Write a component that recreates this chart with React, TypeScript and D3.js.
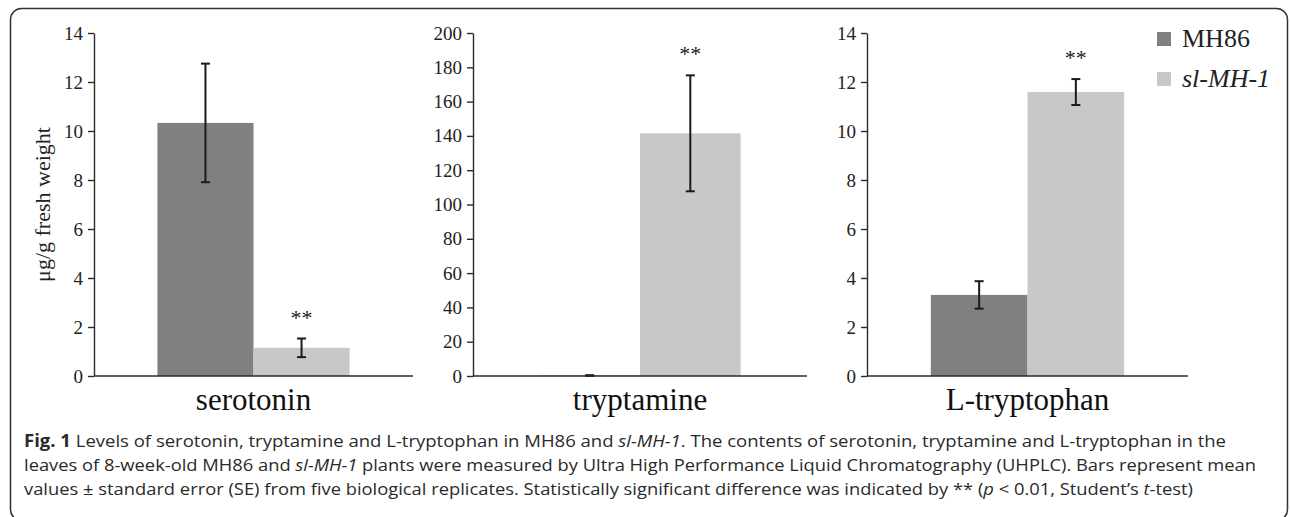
import React, { useEffect, useRef } from "react";
import * as d3 from "d3";

// values (µg/g fresh weight)
const categories = ["serotonin", "tryptamine", "L-tryptophan"];
const seriesNames = ["MH86", "sl-MH-1"];
const mh86Mean = [10.33, 0.2, 3.31];
const mh86Se = [2.42, 0.3, 0.56];
const slMean = [1.15, 141.5, 11.59];
const slSe = [0.38, 33.8, 0.53];
const yMax = [14, 200, 14];
const yStep = [2, 20, 2];
const starMark = ["**", "**", "**"];

const colorMH86 = "#808080";
const colorSl = "#c8c8c8";
const inkColor = "#2b2b2b";
const serif = "Liberation Serif";
const sans = "Open Sans";

// plot areas for the three panels
const panels = [
    { x0: 94, x1: 413 },
    { x0: 473, x1: 807 },
    { x0: 867, x1: 1188 },
];
const plotTop = 33;
const plotBottom = 376;

const captionLines = [
    {
        y: 447,
        len: 1202,
        parts: [
            { t: "Fig. 1", w: "bold" },
            { t: " Levels of serotonin, tryptamine and L-tryptophan in MH86 and " },
            { t: "sl-MH-1", i: true },
            { t: ". The contents of serotonin, tryptamine and L-tryptophan in the" },
        ],
    },
    {
        y: 471,
        len: 1232,
        parts: [
            { t: "leaves of 8-week-old MH86 and " },
            { t: "sl-MH-1", i: true },
            { t: " plants were measured by Ultra High Performance Liquid Chromatography (UHPLC). Bars represent mean" },
        ],
    },
    {
        y: 495,
        len: 1169,
        parts: [
            { t: "values \u00b1 standard error (SE) from five biological replicates. Statistically significant difference was indicated by ** (" },
            { t: "p", i: true },
            { t: " < 0.01, Student\u2019s " },
            { t: "t", i: true },
            { t: "-test)" },
        ],
    },
];

const width = 1290;
const height = 517;

export default function App() {
    const svgRef = useRef<SVGSVGElement>(null);

    useEffect(() => {
        document.body.style.margin = "0";
        const svg = d3.select(svgRef.current);
        svg.selectAll("*").remove();

        svg.append("rect")
            .attr("width", width)
            .attr("height", height)
            .attr("fill", "white");

        // rounded frame around the figure
        svg.append("rect")
            .attr("x", 10.5)
            .attr("y", 8.5)
            .attr("width", 1277)
            .attr("height", 512)
            .attr("rx", 11)
            .attr("fill", "none")
            .attr("stroke", "#333")
            .attr("stroke-width", 1.5);

        categories.forEach((cat, i) => {
            const p = panels[i];
            const g = svg.append("g").attr("font-family", serif);

            const y = d3.scaleLinear().domain([0, yMax[i]]).range([plotBottom, plotTop]);
            const x = d3.scaleBand().domain([cat]).range([p.x0, p.x1]).paddingInner(0).paddingOuter(0.33);
            const xs = d3.scaleBand().domain(seriesNames).range([0, x.bandwidth()]);

            const values = [
                { name: "MH86", mean: mh86Mean[i], se: mh86Se[i], color: colorMH86 },
                { name: "sl-MH-1", mean: slMean[i], se: slSe[i], color: colorSl },
            ];

            g.selectAll("rect.bar")
                .data(values)
                .enter()
                .append("rect")
                .attr("class", "bar")
                .attr("x", (d) => (x(cat) as number) + (xs(d.name) as number))
                .attr("width", xs.bandwidth())
                .attr("y", (d) => y(d.mean))
                .attr("height", (d) => plotBottom - y(d.mean))
                .attr("fill", (d) => d.color);

            // error bars
            values.forEach((d) => {
                const cx = (x(cat) as number) + (xs(d.name) as number) + xs.bandwidth() / 2;
                const lo = Math.max(0, d.mean - d.se);
                const hi = d.mean + d.se;
                const eb = g.append("g").attr("stroke", "#1a1a1a").attr("stroke-width", 2);
                eb.append("line").attr("x1", cx).attr("x2", cx).attr("y1", y(lo)).attr("y2", y(hi));
                eb.append("line").attr("x1", cx - 4.5).attr("x2", cx + 4.5).attr("y1", y(hi)).attr("y2", y(hi));
                eb.append("line").attr("x1", cx - 4.5).attr("x2", cx + 4.5).attr("y1", y(lo)).attr("y2", y(lo));
            });

            // significance mark above sl-MH-1
            const sl = values[1];
            g.append("text")
                .attr("x", (x(cat) as number) + (xs("sl-MH-1") as number) + xs.bandwidth() / 2)
                .attr("y", y(sl.mean + sl.se) - 14)
                .attr("text-anchor", "middle")
                .attr("font-family", serif)
                .attr("font-size", 22)
                .attr("fill", "#222")
                .text(starMark[i]);

            // y axis
            const yAxis = d3.axisLeft(y)
                .tickValues(d3.range(0, yMax[i] + yStep[i] / 2, yStep[i]))
                .tickSize(6)
                .tickSizeOuter(0)
                .tickPadding(5);
            const ag = g.append("g").attr("transform", `translate(${p.x0},0)`).call(yAxis);
            ag.attr("font-family", serif).attr("font-size", 19);
            ag.select(".domain").attr("stroke", inkColor).attr("stroke-width", 1.4);
            ag.selectAll(".tick line").attr("stroke", inkColor).attr("stroke-width", 1.4);
            ag.selectAll(".tick text")
                .attr("font-family", serif)
                .attr("font-size", 19)
                .attr("fill", "#222");

            // x axis line
            g.append("line")
                .attr("x1", p.x0)
                .attr("x2", p.x1)
                .attr("y1", plotBottom)
                .attr("y2", plotBottom)
                .attr("stroke", inkColor)
                .attr("stroke-width", 1.4);

            g.append("text")
                .attr("x", (x(cat) as number) + x.bandwidth() / 2)
                .attr("y", 410)
                .attr("text-anchor", "middle")
                .attr("font-family", serif)
                .attr("font-size", 31)
                .attr("fill", "#111")
                .text(cat);
        });

        // y axis title
        svg.append("text")
            .attr("transform", `translate(50, ${(plotTop + plotBottom) / 2}) rotate(-90)`)
            .attr("text-anchor", "middle")
            .attr("font-family", serif)
            .attr("font-size", 22)
            .attr("fill", "#222")
            .text("\u03bcg/g fresh weight");

        // legend
        const legend = svg.append("g").attr("transform", "translate(1157, 32)");
        [colorMH86, colorSl].forEach((c, i) => {
            legend.append("rect")
                .attr("x", 0)
                .attr("y", i * 40)
                .attr("width", 14)
                .attr("height", 14)
                .attr("fill", c);
            legend.append("text")
                .attr("x", 25)
                .attr("y", i * 40 + 15)
                .attr("font-family", serif)
                .attr("font-size", 26)
                .attr("font-style", i === 1 ? "italic" : "normal")
                .attr("fill", "#222")
                .text(seriesNames[i]);
        });

        // caption
        captionLines.forEach((line) => {
            const t = svg.append("text")
                .attr("x", 24)
                .attr("y", line.y)
                .attr("textLength", line.len)
                .attr("lengthAdjust", "spacingAndGlyphs")
                .attr("font-family", sans)
                .attr("font-size", 17)
                .attr("fill", "#2a2a2a");
            line.parts.forEach((part: any) => {
                t.append("tspan")
                    .attr("font-weight", part.w || "normal")
                    .attr("font-style", part.i ? "italic" : "normal")
                    .text(part.t);
            });
        });
    }, []);

    return (
        <svg
            ref={svgRef}
            width={width}
            height={height}
            style={{ position: "absolute", left: 0, top: 0, display: "block" }}
        ></svg>
    );
}
